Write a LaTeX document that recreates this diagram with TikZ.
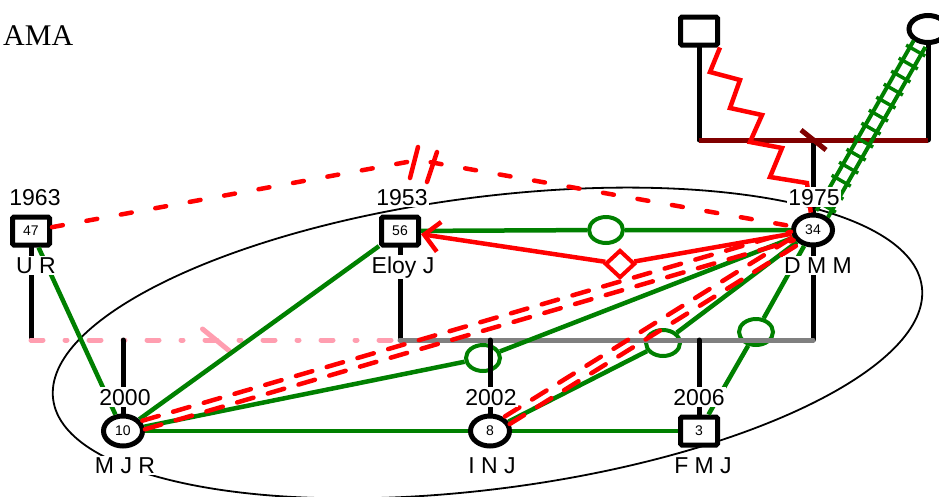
\documentclass[tikz,border=0pt]{standalone}
\usepackage{fontspec}
\setmainfont{Liberation Sans}
\newfontfamily\titlefont{Liberation Serif}
\usetikzlibrary{shapes.geometric,arrows.meta,decorations.markings,calc}

\definecolor{gfam}{RGB}{0,128,0}
\definecolor{rfam}{RGB}{255,0,0}
\definecolor{mfam}{RGB}{128,0,0}
\definecolor{gbar}{RGB}{128,128,128}
\definecolor{pbar}{RGB}{255,158,176}

\begin{document}
\begin{tikzpicture}[x=1pt,y=-1pt,
  male/.style={draw=black, line width=5pt, fill=white, rectangle, rounded corners=1.5pt,
    minimum width=37pt, minimum height=28pt, inner sep=0pt, font=\fontsize{14}{14}\selectfont},
  female/.style={draw=black, line width=5pt, fill=white, ellipse,
    minimum width=39pt, minimum height=30pt, inner sep=0pt, font=\fontsize{14}{14}\selectfont},
  tag/.style={fill=white, inner sep=1.5pt, anchor=base, font=\fontsize{23}{23}\selectfont},
  kline/.style={line width=5pt, black, line cap=round},
  grayline/.style={line width=5pt, gbar, line cap=round},
  pinkline/.style={line width=5pt, pbar, line cap=round, dash pattern=on 12pt off 22pt on 2pt off 22pt},
  mline/.style={line width=5pt, mfam},
  gline/.style={line width=4.5pt, gfam},
  rline/.style={line width=4.5pt, rfam},
  rdash/.style={rline, line cap=round, dash pattern=on 11pt off 24pt},
  rdash2/.style={rline, line cap=round, dash pattern=on 17pt off 15pt},
  gmark/.style={draw=gfam, line width=4pt, ellipse, minimum width=34pt, minimum height=26pt, inner sep=0pt},
  rmark/.style={draw=rfam, line width=4pt, diamond, minimum width=30pt, minimum height=28pt, inner sep=0pt},
]
\useasboundingbox (0,0) rectangle (939,496);

% title
\node[anchor=base west, inner sep=0pt, font=\fontsize{30}{30}\selectfont] (ttl) at (3,45) {\titlefont AMA};

% household ellipse
\draw[line width=1.8pt, rotate around={7.4:(487.5,343)}] (487.5,343) ellipse [x radius=438pt, y radius=146pt];

% people
\node[male]   (ur)   at (31,231)  {47};
\node[male]   (eloy) at (400,231) {56};
\node[female] (dmm)  at (813,230) {34};
\node[female] (mjr)  at (123,431) {10};
\node[female] (inj)  at (490,431) {8};
\node[male]   (fmj)  at (699,431) {3};
\node[male]   (psq)  at (699,31)  {};
\node[female, minimum width=38pt, minimum height=27pt] (pm) at (928,29) {};

% relationship markers
\node[gmark] (k0) at (606,230) {};
\node[gmark] (k1) at (483,358) {};
\node[gmark] (k2) at (663,343) {};
\node[gmark] (k3) at (756,332) {};
\node[rmark] (dm) at (620,264) {};

\coordinate (bar)  at (0,340);
\coordinate (pbar) at (0,140);
\coordinate (brk)  at (418,160);

% parents of D M M
\draw[kline] (psq) -- (psq |- pbar);
\draw[kline] (pm) -- (pm |- pbar);
\draw[kline] (dmm |- pbar) -- (dmm);
\draw[mline] (psq |- pbar) -- (pm |- pbar);
\draw[mline] ($(dmm |- pbar)+(-12,-10)$) -- ($(dmm |- pbar)+(13,10)$);

% couples and children
\draw[kline] (ur) -- (ur |- bar);
\draw[pinkline] (ur |- bar) -- (eloy |- bar) coordinate[pos=0.5] (sep);
\draw[line width=5pt, pbar, line cap=round] ($(sep)+(-13,-11)$) -- ($(sep)+(14,11)$);
\draw[kline] (eloy) -- (eloy |- bar);
\draw[kline] (dmm) -- (dmm |- bar);
\draw[grayline] (eloy |- bar) -- (dmm |- bar);
\draw[kline] (mjr |- bar) -- (mjr);
\draw[kline] (inj |- bar) -- (inj);
\draw[kline] (fmj |- bar) -- (fmj);

% emotional relationships
\draw[rline, line join=miter] (psq.south east) -- (710,72) -- (740,80) -- (730,108) -- (762,115)
  -- (750,142) -- (782,148) -- (770,177) -- (807,183) -- (dmm);

\path[postaction={decorate}, decoration={markings,
    mark=between positions 0.04 and 0.98 step 15pt with {\draw[gfam, line width=3.5pt] (0pt,-11pt) -- (0pt,11pt);}}]
  (pm) -- (dmm);
\draw[gline, line width=4pt, transform canvas={shift={(5.8,3.3)}}] (pm) -- (dmm);
\draw[gline, line width=4pt, transform canvas={shift={(-5.8,-3.3)}}] (pm) -- (dmm);

\draw[rdash] (ur) -- (brk) -- (dmm);
\draw[rline, line cap=round] ($(brk)+(0,-13)$) -- ($(brk)+(-8,18)$);
\draw[rline, line cap=round] ($(brk)+(19,-8)$) -- ($(brk)+(9,22)$);

\draw[gline] (ur) -- (mjr);
\draw[gline] (eloy) -- (mjr);
\draw[gline] (mjr) -- (inj);
\draw[gline] (inj) -- (fmj);
\draw[gline] (eloy) -- (k0) -- (dmm);
\draw[gline] (mjr) -- (k1) -- (dmm);
\draw[gline] (inj) -- (k2) -- (dmm);
\draw[gline] (fmj) -- (k3) -- (dmm);

\draw[rline, {Straight Barb[length=15pt, width=30pt]}-] (eloy) -- (dm);
\draw[rline] (dm) -- (dmm);

\draw[rdash2, transform canvas={shift={(1.3,4.3)}}] (mjr) -- (dmm);
\draw[rdash2, transform canvas={shift={(-1.3,-4.3)}}] (mjr) -- (dmm);
\draw[rdash2, transform canvas={shift={(2.4,3.8)}}] (inj) -- (dmm);
\draw[rdash2, transform canvas={shift={(-2.4,-3.8)}}] (inj) -- (dmm);

% years and names
\node[tag] (t1) at (35,205)  {1963};
\node[tag] (n1) at (36,273)  {U R};
\node[tag] (t2) at (402,205) {1953};
\node[tag] (n2) at (403,273) {Eloy J};
\node[tag] (t3) at (814,205) {1975};
\node[tag] (n3) at (818,273) {D M M};
\node[tag] (t4) at (125,405) {2000};
\node[tag] (n4) at (125,473) {M J R};
\node[tag] (t5) at (491,405) {2002};
\node[tag] (n5) at (492,473) {I N J};
\node[tag] (t6) at (699,405) {2006};
\node[tag] (n6) at (703,473) {F M J};
\end{tikzpicture}
\end{document}
